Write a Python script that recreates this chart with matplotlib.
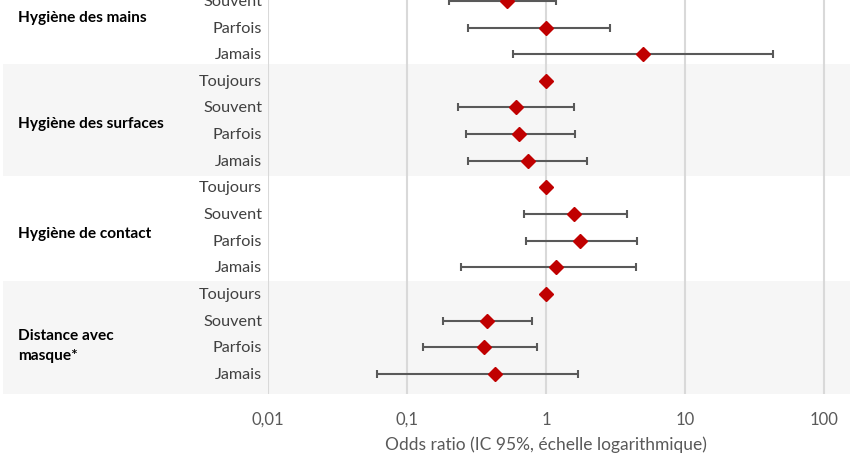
import numpy as np
import matplotlib.pyplot as plt

# Données (odds ratio et IC 95%)
groupes = ['Hygiène des mains', 'Hygiène des surfaces', 'Hygiène de contact', 'Distance avec\nmasque*']
modalites = ['Toujours', 'Souvent', 'Parfois', 'Jamais']

odds_ratio = [1, 0.52, 1.0, 4.93,
              1, 0.61, 0.64, 0.74,
              1, 1.58, 1.74, 1.18,
              1, 0.376, 0.355, 0.43]
ic_bas = [1, 0.20, 0.276, 0.577,
          1, 0.234, 0.264, 0.276,
          1, 0.69, 0.72, 0.245,
          1, 0.18, 0.13, 0.061]
ic_haut = [1, 1.18, 2.86, 42.9,
           1, 1.58, 1.60, 1.98,
           1, 3.83, 4.51, 4.39,
           1, 0.79, 0.86, 1.69]

ticks = [0.01, 0.1, 1, 10, 100]
tick_labels = ['0,01', '0,1', '1', '10', '100']

plt.rcParams['font.family'] = ['Lato', 'DejaVu Sans']

fig = plt.figure(figsize=(8.5, 4.64), dpi=100)
ax = fig.add_axes([268 / 850, 1 - 395 / 464, 582 / 850, 395 / 464])

y = np.arange(len(odds_ratio))
ax.set_xscale('log')
ax.set_xlim(0.01, 153)
ax.set_ylim(15.75, 0.93)

# bandes grises (groupes pairs)
for y0, y1 in [(3.37, 7.57), (11.51, 15.75)]:
    ax.axhspan(y0, y1, xmin=-0.455, xmax=1,
               color='#f6f6f6', zorder=0, clip_on=False, lw=0)

for t in ticks:
    ax.axvline(t, color='#d9d9d9', lw=1.5, zorder=1)

x = np.array(odds_ratio)
err = [x - np.array(ic_bas), np.array(ic_haut) - x]
ax.errorbar(x, y, xerr=err, fmt='none', ecolor='#595959', elinewidth=1.5,
            capsize=3, capthick=1.5, zorder=2)
ax.plot(x, y, 'D', color='#c00000', markersize=7, zorder=3, lw=0)

for s in ax.spines.values():
    s.set_visible(False)
ax.set_yticks([])
ax.set_xticks(ticks)
ax.set_xticklabels(tick_labels, color='#595959', fontsize=12)
ax.minorticks_off()
ax.tick_params(axis='x', length=0, pad=12)
ax.set_xlabel('Odds ratio (IC 95%, échelle logarithmique)', color='#595959',
              fontsize=12.5, labelpad=10)
ax.xaxis.set_label_coords(0.478, -0.105)

# étiquettes des modalités
for i in y:
    ax.text(-0.0103, i, modalites[i % 4], transform=ax.get_yaxis_transform(),
            ha='right', va='center', fontsize=11.7, color='#404040')

decalage = [0.1, 0.1, 0.2, 0.4]
for g, nom in enumerate(groupes):
    ax.text(-0.43, g * 4 + 1.5 + decalage[g], nom, transform=ax.get_yaxis_transform(),
            ha='left', va='center', fontsize=11.1, fontweight='bold',
            color='black', linespacing=1.55)

plt.savefig('out.png', dpi=100)
